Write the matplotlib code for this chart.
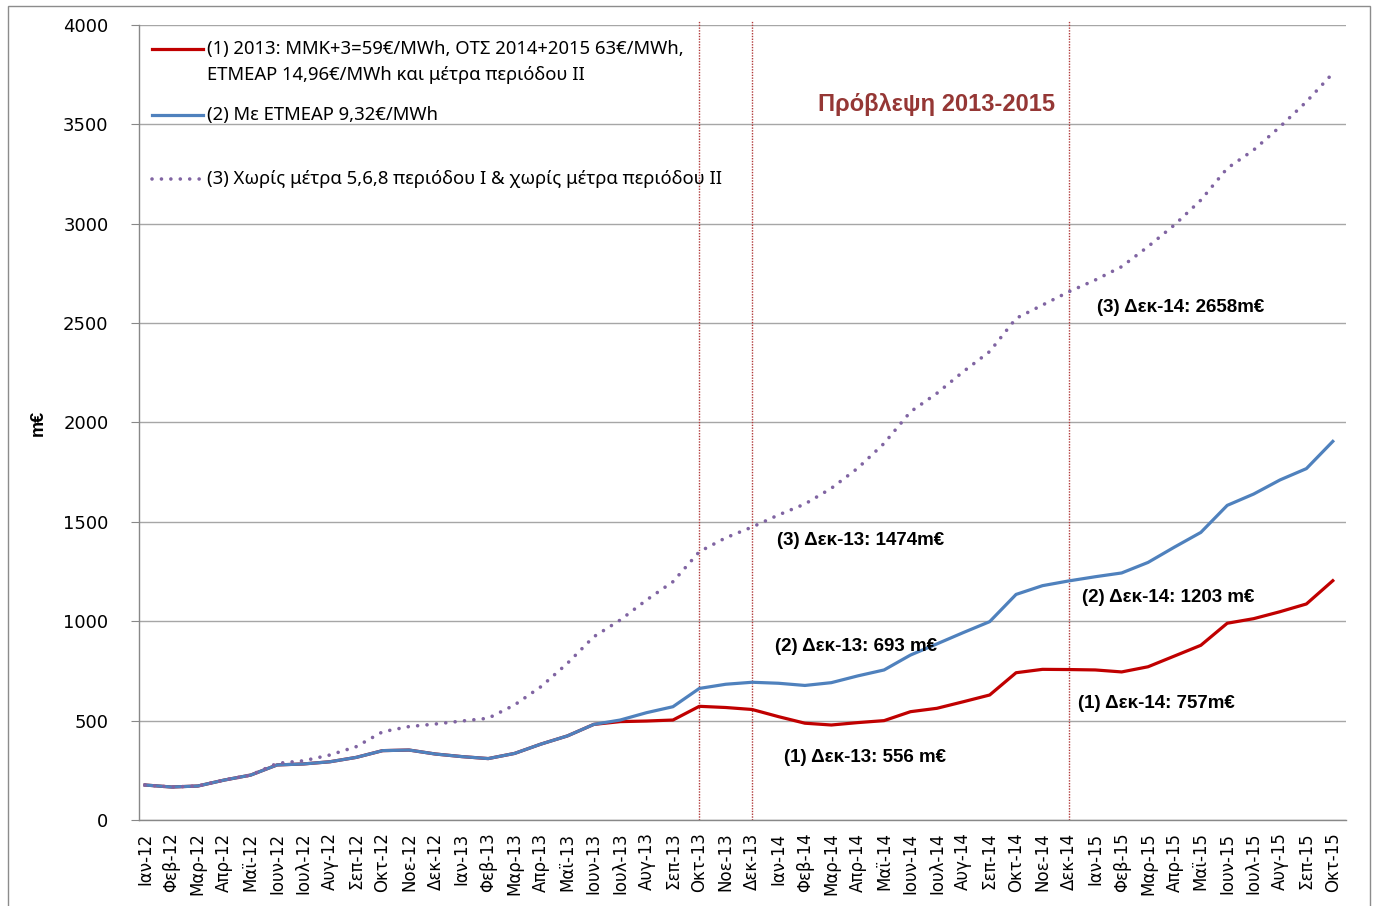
import matplotlib
matplotlib.use("Agg")
import matplotlib.pyplot as plt
from matplotlib.patches import Rectangle

months = ['Ιαν-12', 'Φεβ-12', 'Μαρ-12', 'Απρ-12', 'Μαϊ-12', 'Ιουν-12', 'Ιουλ-12', 'Αυγ-12',
          'Σεπ-12', 'Οκτ-12', 'Νοε-12', 'Δεκ-12',
          'Ιαν-13', 'Φεβ-13', 'Μαρ-13', 'Απρ-13', 'Μαϊ-13', 'Ιουν-13', 'Ιουλ-13', 'Αυγ-13',
          'Σεπ-13', 'Οκτ-13', 'Νοε-13', 'Δεκ-13',
          'Ιαν-14', 'Φεβ-14', 'Μαρ-14', 'Απρ-14', 'Μαϊ-14', 'Ιουν-14', 'Ιουλ-14', 'Αυγ-14',
          'Σεπ-14', 'Οκτ-14', 'Νοε-14', 'Δεκ-14',
          'Ιαν-15', 'Φεβ-15', 'Μαρ-15', 'Απρ-15', 'Μαϊ-15', 'Ιουν-15', 'Ιουλ-15', 'Αυγ-15',
          'Σεπ-15', 'Οκτ-15']

# (1) red
scenario1 = [176, 166, 171, 201, 226, 277, 282, 293, 315, 349, 352, 332,
             319, 309, 335, 382, 423, 481, 495, 498, 503, 572, 566, 556,
             520, 487, 478, 490, 500, 545, 562, 595, 629, 741, 758, 757,
             755, 745, 771, 825, 879, 990, 1013, 1048, 1087, 1204]
# (2) blue
scenario2 = [176, 166, 171, 201, 226, 277, 282, 293, 315, 349, 352, 332,
             319, 309, 335, 382, 423, 481, 503, 540, 570, 662, 683, 693,
             688, 677, 691, 725, 755, 830, 886, 943, 998, 1135, 1179, 1203,
             1224, 1243, 1296, 1373, 1447, 1583, 1640, 1711, 1768, 1905]
# (3) dotted purple
scenario3 = [176, 166, 171, 201, 226, 285, 298, 327, 369, 444, 470, 483,
             498, 512, 579, 671, 788, 922, 1006, 1107, 1199, 1350, 1420, 1474,
             1535, 1590, 1669, 1770, 1895, 2054, 2147, 2256, 2357, 2524, 2591, 2658,
             2717, 2784, 2885, 2994, 3119, 3279, 3371, 3488, 3614, 3757]

legend_labels = [
    ['(1) 2013: ΜΜΚ+3=59€/MWh, ΟΤΣ 2014+2015 63€/MWh,',
     'ΕΤΜΕΑΡ 14,96€/MWh και μέτρα περιόδου ΙΙ'],
    ['(2) Με ΕΤΜΕΑΡ 9,32€/MWh'],
    ['(3) Χωρίς μέτρα 5,6,8 περιόδου Ι & χωρίς μέτρα περιόδου ΙΙ'],
]

marker_months = ['Οκτ-13', 'Δεκ-13', 'Δεκ-14']

notes = [
    ('(3) Δεκ-13: 1474m€', 23.96, 1404),
    ('(2) Δεκ-13: 693 m€', 23.88, 875),
    ('(1) Δεκ-13: 556 m€', 24.22, 312),
    ('(3) Δεκ-14: 2658m€', 36.05, 2581),
    ('(2) Δεκ-14: 1203 m€', 35.48, 1117),
    ('(1) Δεκ-14: 757m€', 35.33, 584),
]

RED = '#C00000'
BLUE = '#4F81BD'
PURPLE = '#8064A2'
GRID = '#A6A6A6'
TXT_FONT = ['Noto Sans', 'DejaVu Sans']
BOLD_FONT = ['Liberation Sans Narrow', 'Liberation Sans', 'DejaVu Sans']

W, H = 1374, 906
fig = plt.figure(figsize=(W / 100, H / 100), dpi=100)
ax = fig.add_axes([139 / W, 86 / H, 1207 / W, 795 / H])

x = list(range(len(months)))
ax.plot(x, scenario1, color=RED, lw=2.3, solid_joinstyle='round', zorder=3)
ax.plot(x, scenario2, color=BLUE, lw=2.3, solid_joinstyle='round', zorder=4)
ax.plot(x, scenario3, color=PURPLE, lw=2.6, linestyle=(0, (0.01, 2.6)),
        dash_capstyle='round', zorder=5)

for m in marker_months:
    ax.axvline(months.index(m), ymax=1.005, color='#B03A3A', lw=1.0,
               linestyle=(0, (1, 1)), zorder=2, clip_on=False)

ax.set_xlim(-0.23, 45.5)
ax.set_ylim(0, 4000)
ax.set_yticks(range(0, 4001, 500))
ax.set_xticks(x)
ax.set_xticklabels(months, rotation=90, fontsize=12, family='DejaVu Sans', va='top')
ax.tick_params(axis='x', length=0, pad=9)
ax.tick_params(axis='y', length=6, color='#888888', pad=16)
for lab in ax.get_yticklabels():
    lab.set_family('DejaVu Sans')
    lab.set_fontsize(13)
ax.yaxis.grid(True, color=GRID, lw=1.0)
ax.set_axisbelow(True)
for s in ['top', 'right']:
    ax.spines[s].set_visible(False)
for s in ['left', 'bottom']:
    ax.spines[s].set_color('#888888')
    ax.spines[s].set_linewidth(1.0)

# legend drawn by hand so the key sits on the first text line like in Excel
def key(y, color, dotted=False):
    if dotted:
        ax.plot([0.0108, 0.053], [y, y], transform=ax.transAxes, color=color, lw=2.6,
                linestyle=(0, (0.01, 2.6)), dash_capstyle='round', clip_on=False)
    else:
        ax.plot([0.0108, 0.053], [y, y], transform=ax.transAxes, color=color, lw=2.3,
                clip_on=False)

key(0.9698, RED)
key(0.8868, BLUE)
key(0.8063, PURPLE, dotted=True)
ax.text(0.0563, 0.9698, legend_labels[0][0], transform=ax.transAxes, va='center',
        fontsize=13.3, family=TXT_FONT)
ax.text(0.0563, 0.9370, legend_labels[0][1], transform=ax.transAxes, va='center',
        fontsize=13.3, family=TXT_FONT)
ax.text(0.0563, 0.8868, legend_labels[1][0], transform=ax.transAxes, va='center',
        fontsize=13.3, family=TXT_FONT)
ax.text(0.0563, 0.8063, legend_labels[2][0], transform=ax.transAxes, va='center',
        fontsize=13.3, family=TXT_FONT)

for txt, nx, ny in notes:
    ax.text(nx, ny, txt, ha='left', va='center', fontsize=13.5, fontweight='bold',
            family=BOLD_FONT, color='black', zorder=6)

ax.text(29.98, 3602, 'Πρόβλεψη 2013-2015', ha='center', va='center', fontsize=17,
        fontweight='bold', color='#953735', family=BOLD_FONT, zorder=6)

fig.text(38 / W, 1 - 423 / H, 'm€', rotation=90, ha='center', va='center',
         fontsize=13, fontweight='bold', family=BOLD_FONT)

fig.patches.append(Rectangle((8 / W, -0.05), 1362 / W, 1 - 6 / H + 0.05,
                             transform=fig.transFigure, fill=False,
                             edgecolor='#8C8C8C', lw=1.0))

fig.savefig('out.png', dpi=100)
